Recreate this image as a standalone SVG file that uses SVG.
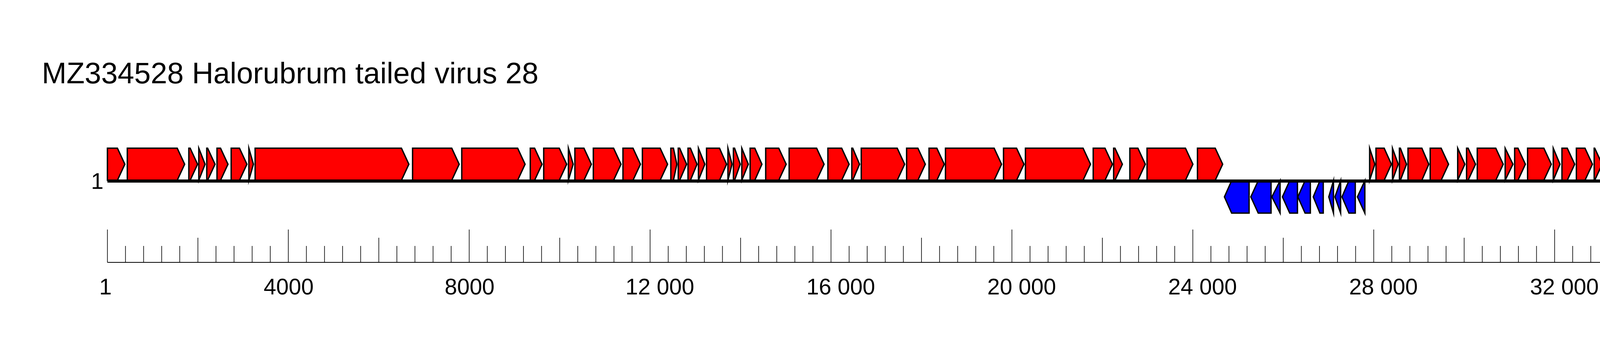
<svg xmlns="http://www.w3.org/2000/svg" width="4717" height="913" viewBox="0 0 4717 913">
<style>
text{font-family:"Liberation Sans",Arial,sans-serif;fill:#000}
.t{font-size:76px}
.n{font-size:57.5px}
.f{fill:#ff0000;stroke:#000;stroke-width:3.5;stroke-miterlimit:30}
.r{fill:#0000ff;stroke:#000;stroke-width:3.5;stroke-miterlimit:30}
.tk{stroke:#000;stroke-width:1.6;fill:none}
</style>
<rect width="4717" height="913" fill="#fff"/>
<text id="title" class="t" x="107" y="213">MZ334528 Halorubrum tailed virus 28</text>
<g id="genes-forward">
<g id="f1"><polygon class="f" points="275,379 300.6,379 319.6,420 300.6,461 275,461"/></g>
<g id="f2"><polygon class="f" points="325.9,379 453.7,379 472.7,420 453.7,461 325.9,461"/></g>
<g id="f3"><polygon class="f" points="483.4,379 486.8,379 505.8,420 486.8,461 483.4,461"/></g>
<g id="f4"><polygon class="f" points="508.9,379 525,420 508.9,461"/></g>
<g id="f5"><polygon class="f" points="529.3,379 531.5,379 550.5,420 531.5,461 529.3,461"/></g>
<g id="f6"><polygon class="f" points="555.5,379 564.6,379 583.6,420 564.6,461 555.5,461"/></g>
<g id="f7"><polygon class="f" points="591.8,379 613.1,379 632.1,420 613.1,461 591.8,461"/></g>
<g id="f8"><polygon class="f" points="637.1,379 648.7,420 637.1,461"/></g>
<g id="f9"><polygon class="f" points="653.1,379 1027.7,379 1046.7,420 1027.7,461 653.1,461"/></g>
<g id="f10"><polygon class="f" points="1056.2,379 1156.5,379 1175.5,420 1156.5,461 1056.2,461"/></g>
<g id="f11"><polygon class="f" points="1182.1,379 1325.2,379 1344.2,420 1325.2,461 1182.1,461"/></g>
<g id="f12"><polygon class="f" points="1357.5,379 1368.6,379 1387.6,420 1368.6,461 1357.5,461"/></g>
<g id="f13"><polygon class="f" points="1391.9,379 1431.7,379 1450.7,420 1431.7,461 1391.9,461"/></g>
<g id="f14"><polygon class="f" points="1455.1,379 1467.3,420 1455.1,461"/></g>
<g id="f15"><polygon class="f" points="1471.7,379 1494.9,379 1513.9,420 1494.9,461 1471.7,461"/></g>
<g id="f16"><polygon class="f" points="1518.9,379 1570.8,379 1589.8,420 1570.8,461 1518.9,461"/></g>
<g id="f17"><polygon class="f" points="1594.8,379 1620.5,379 1639.5,420 1620.5,461 1594.8,461"/></g>
<g id="f18"><polygon class="f" points="1644.5,379 1690,379 1709,420 1690,461 1644.5,461"/></g>
<g id="f19"><polygon class="f" points="1717.3,379 1724,379 1732.7,420 1724,461 1717.3,461"/></g>
<g id="f20"><polygon class="f" points="1736.3,379 1740,379 1757.7,420 1740,461 1736.3,461"/></g>
<g id="f21"><polygon class="f" points="1761.3,379 1767.5,379 1784.4,420 1767.5,461 1761.3,461"/></g>
<g id="f22"><polygon class="f" points="1788,379 1804.4,420 1788,461"/></g>
<g id="f23"><polygon class="f" points="1808.7,379 1842,379 1860,420 1842,461 1808.7,461"/></g>
<g id="f24"><polygon class="f" points="1863.5,379 1874,420 1863.5,461"/></g>
<g id="f25"><polygon class="f" points="1877.5,379 1880.5,379 1895,420 1880.5,461 1877.5,461"/></g>
<g id="f26"><polygon class="f" points="1899,379 1915.7,420 1899,461"/></g>
<g id="f27"><polygon class="f" points="1920.3,379 1932.3,379 1950.5,420 1932.3,461 1920.3,461"/></g>
<g id="f28"><polygon class="f" points="1960.2,379 1993.6,379 2012.6,420 1993.6,461 1960.2,461"/></g>
<g id="f29"><polygon class="f" points="2020.2,379 2090.6,379 2109.6,420 2090.6,461 2020.2,461"/></g>
<g id="f30"><polygon class="f" points="2119.4,379 2154.7,379 2173.7,420 2154.7,461 2119.4,461"/></g>
<g id="f31"><polygon class="f" points="2180.6,379 2183,379 2200.4,420 2183,461 2180.6,461"/></g>
<g id="f32"><polygon class="f" points="2204.8,379 2296.9,379 2315.9,420 2296.9,461 2204.8,461"/></g>
<g id="f33"><polygon class="f" points="2320.9,379 2349.8,379 2368.8,420 2349.8,461 2320.9,461"/></g>
<g id="f34"><polygon class="f" points="2378.3,379 2398.3,379 2417.3,420 2398.3,461 2378.3,461"/></g>
<g id="f35"><polygon class="f" points="2420.4,379 2545,379 2564,420 2545,461 2420.4,461"/></g>
<g id="f36"><polygon class="f" points="2569,379 2602.4,379 2621.4,420 2602.4,461 2569,461"/></g>
<g id="f37"><polygon class="f" points="2625.1,379 2772.7,379 2791.7,420 2772.7,461 2625.1,461"/></g>
<g id="f38"><polygon class="f" points="2798.6,379 2828.8,379 2847.8,420 2828.8,461 2798.6,461"/></g>
<g id="f39"><polygon class="f" points="2850.9,379 2854.3,379 2873.3,420 2854.3,461 2850.9,461"/></g>
<g id="f40"><polygon class="f" points="2892.4,379 2913,379 2932,420 2913,461 2892.4,461"/></g>
<g id="f41"><polygon class="f" points="2936.4,379 3034.8,379 3053.8,420 3034.8,461 2936.4,461"/></g>
<g id="f42"><polygon class="f" points="3065.5,379 3111,379 3130,420 3111,461 3065.5,461"/></g>
<g id="f43"><polygon class="f" points="3506.3,379 3519.5,420 3506.3,461"/></g>
<g id="f44"><polygon class="f" points="3522.5,379 3543.5,379 3562,420 3543.5,461 3522.5,461"/></g>
<g id="f45"><polygon class="f" points="3564.7,379 3579.5,420 3564.7,461"/></g>
<g id="f46"><polygon class="f" points="3582.5,379 3585,379 3600.7,420 3585,461 3582.5,461"/></g>
<g id="f47"><polygon class="f" points="3604.5,379 3640,379 3657.7,420 3640,461 3604.5,461"/></g>
<g id="f48"><polygon class="f" points="3661.3,379 3689.3,379 3708.3,420 3689.3,461 3661.3,461"/></g>
<g id="f49"><polygon class="f" points="3731.7,379 3750,420 3731.7,461"/></g>
<g id="f50"><polygon class="f" points="3754.4,379 3758.4,379 3777.4,420 3758.4,461 3754.4,461"/></g>
<g id="f51"><polygon class="f" points="3781.8,379 3829.2,379 3848.2,420 3829.2,461 3781.8,461"/></g>
<g id="f52"><polygon class="f" points="3853.2,379 3873.1,420 3853.2,461"/></g>
<g id="f53"><polygon class="f" points="3877.5,379 3886,379 3905,420 3886,461 3877.5,461"/></g>
<g id="f54"><polygon class="f" points="3910.6,379 3952.3,379 3971.3,420 3952.3,461 3910.6,461"/></g>
<g id="f55"><polygon class="f" points="3976.3,379 3993.6,420 3976.3,461"/></g>
<g id="f56"><polygon class="f" points="3998.6,379 4012.2,379 4031.2,420 4012.2,461 3998.6,461"/></g>
<g id="f57"><polygon class="f" points="4035.5,379 4057.6,379 4076.6,420 4057.6,461 4035.5,461"/></g>
<g id="f58"><polygon class="f" points="4081.1,379 4082.5,379 4101.5,420 4082.5,461 4081.1,461"/></g>
<g id="f59"><polygon class="f" points="4107.1,379 4145.1,379 4164.1,420 4145.1,461 4107.1,461"/></g>
<g id="f60"><polygon class="f" points="4168.7,379 4195,379 4214,420 4195,461 4168.7,461"/></g>
<g id="f61"><polygon class="f" points="4220.5,379 4337,379 4356,420 4337,461 4220.5,461"/></g>
</g>
<g id="genes-reverse">
<g id="r1"><polygon class="r" points="3134.5,503.5 3153,462 3197.7,462 3197.7,545 3153,545"/></g>
<g id="r2"><polygon class="r" points="3202.1,503.5 3221.1,462 3253.9,462 3253.9,545 3221.1,545"/></g>
<g id="r3"><polygon class="r" points="3256,503.5 3277,462 3277,545"/></g>
<g id="r4"><polygon class="r" points="3283,503.5 3301.7,462 3321.5,462 3321.5,545 3301.7,545"/></g>
<g id="r5"><polygon class="r" points="3322.5,503.5 3341,462 3354.5,462 3354.5,545 3341,545"/></g>
<g id="r6"><polygon class="r" points="3362,503.5 3379,462 3387.5,462 3387.5,545 3379,545"/></g>
<g id="r7"><polygon class="r" points="3401.7,503.5 3413.7,462 3413.7,545"/></g>
<g id="r8"><polygon class="r" points="3417.5,503.5 3432,462 3432,545"/></g>
<g id="r9"><polygon class="r" points="3435.5,503.5 3453.3,462 3469.5,462 3469.5,545 3453.3,545"/></g>
<g id="r10"><polygon class="r" points="3475,503.5 3494,462 3494,545"/></g>
</g>
<g id="genome">
<rect x="275" y="459" width="4083" height="8" fill="#000"/>
<text class="n" x="233" y="483">1</text>
<text class="n" x="4397" y="483">35 270</text>
</g>
<g id="scale">
<line x1="275" y1="671" x2="4442.9" y2="671" stroke="#000" stroke-width="2"/>
<path class="tk" d="M275,587V671M738.1,587V671M1201.2,587V671M1664.3,587V671M2127.4,587V671M2590.5,587V671M3053.6,587V671M3516.7,587V671M3979.8,587V671M4442.9,587V671"/>
<path class="tk" d="M506.6,608V671M969.7,608V671M1432.8,608V671M1895.9,608V671M2359,608V671M2822.1,608V671M3285.2,608V671M3748.3,608V671M4211.4,608V671"/>
<path class="tk" d="M321.3,629V671M367.6,629V671M413.9,629V671M460.2,629V671M552.9,629V671M599.2,629V671M645.5,629V671M691.8,629V671M784.4,629V671M830.7,629V671M877,629V671M923.3,629V671M1016,629V671M1062.3,629V671M1108.6,629V671M1154.9,629V671M1247.5,629V671M1293.8,629V671M1340.1,629V671M1386.4,629V671M1479.1,629V671M1525.4,629V671M1571.7,629V671M1618,629V671M1710.6,629V671M1756.9,629V671M1803.2,629V671M1849.5,629V671M1942.2,629V671M1988.5,629V671M2034.8,629V671M2081.1,629V671M2173.7,629V671M2220,629V671M2266.3,629V671M2312.6,629V671M2405.3,629V671M2451.6,629V671M2497.9,629V671M2544.2,629V671M2636.8,629V671M2683.1,629V671M2729.4,629V671M2775.7,629V671M2868.4,629V671M2914.7,629V671M2961,629V671M3007.3,629V671M3099.9,629V671M3146.2,629V671M3192.5,629V671M3238.8,629V671M3331.5,629V671M3377.8,629V671M3424.1,629V671M3470.4,629V671M3563,629V671M3609.3,629V671M3655.6,629V671M3701.9,629V671M3794.6,629V671M3840.9,629V671M3887.2,629V671M3933.5,629V671M4026.1,629V671M4072.4,629V671M4118.7,629V671M4165,629V671M4257.7,629V671M4304,629V671M4350.3,629V671M4396.6,629V671"/>
<text class="n" x="254" y="753">1</text>
<text class="n" x="675.1" y="753">4000</text>
<text class="n" x="1138.2" y="753">8000</text>
<text class="n" x="1601.3" y="753">12 000</text>
<text class="n" x="2064.4" y="753">16 000</text>
<text class="n" x="2527.5" y="753">20 000</text>
<text class="n" x="2990.6" y="753">24 000</text>
<text class="n" x="3453.7" y="753">28 000</text>
<text class="n" x="3916.8" y="753">32 000</text>
<text class="n" x="4379.9" y="753">36 000 bp</text>
</g>
</svg>
